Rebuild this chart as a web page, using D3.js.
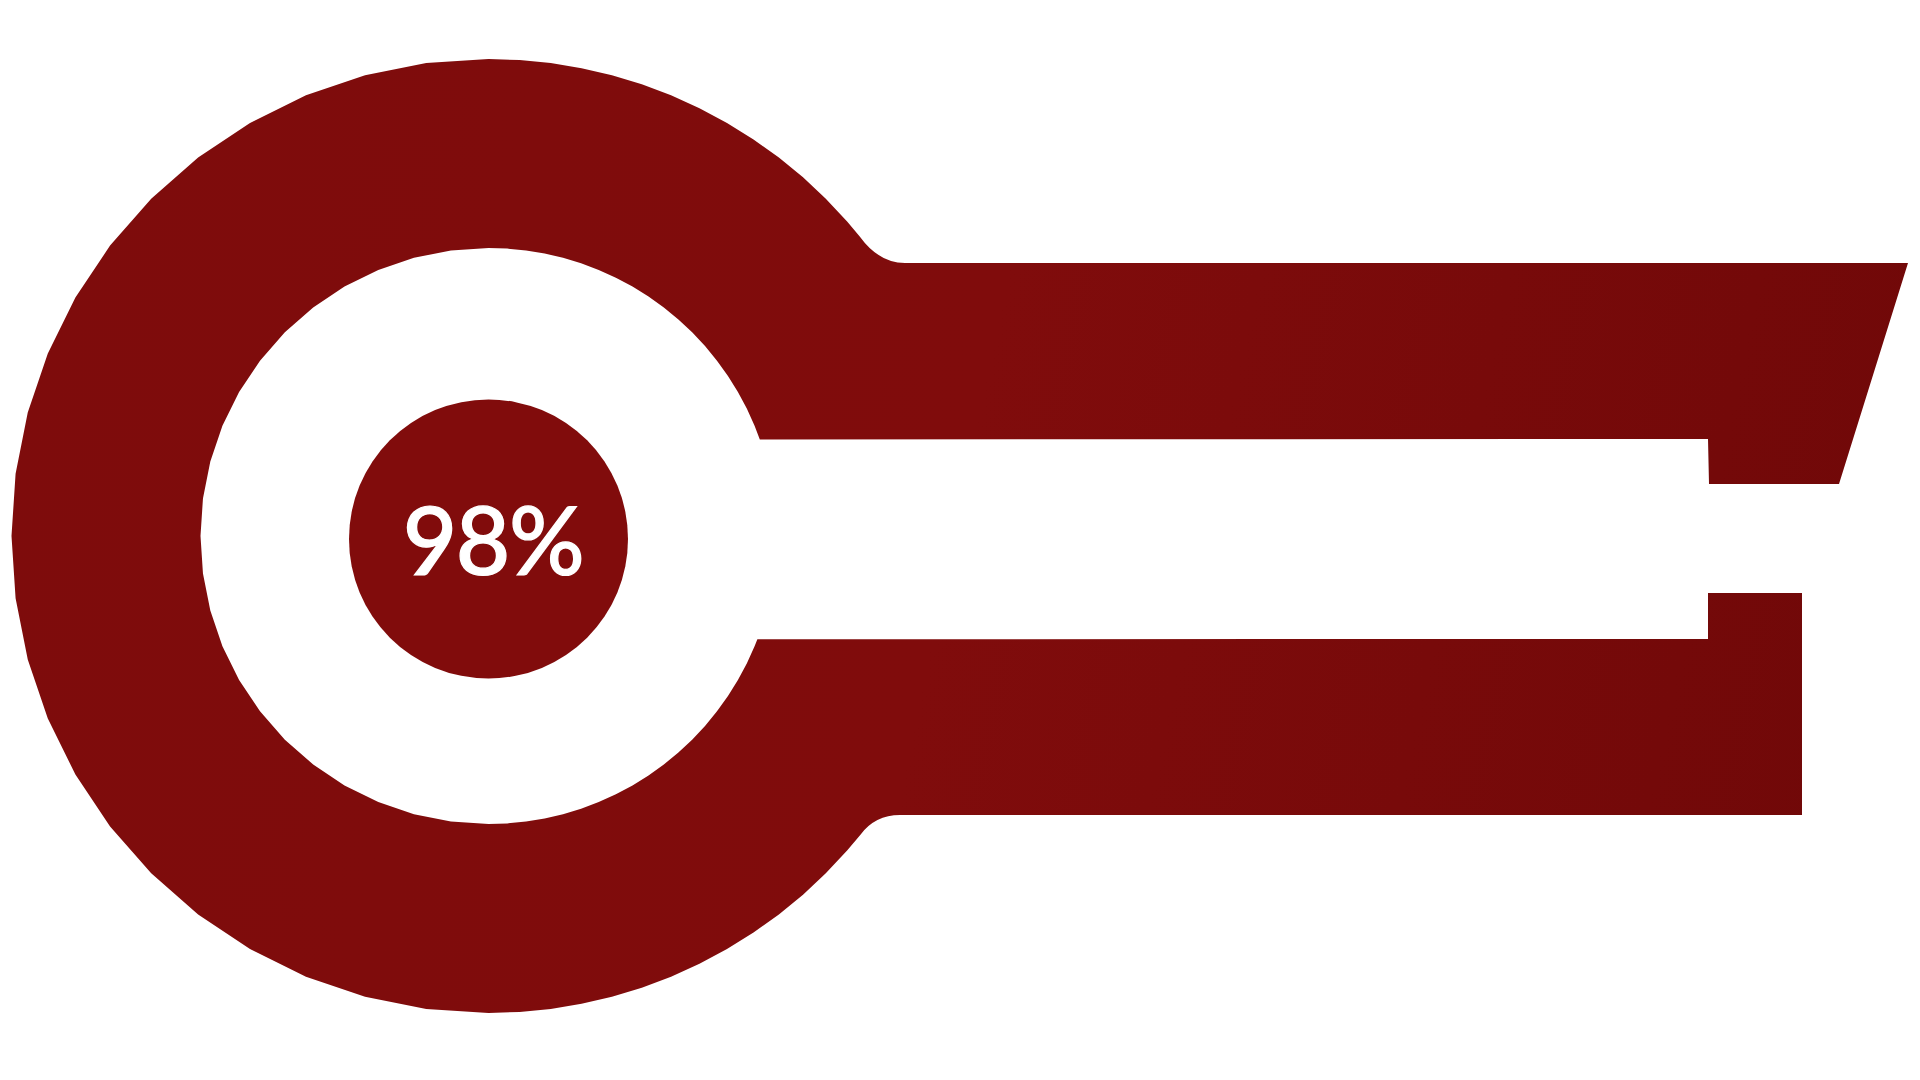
<!DOCTYPE html>
<html>
<head>
<meta charset="utf-8">
<script src="https://cdn.jsdelivr.net/npm/d3@7"></script>
<style>
  html, body { margin: 0; padding: 0; background: #ffffff; }
  svg { display: block; }
</style>
</head>
<body>
<svg id="chart" width="1920" height="1080"></svg>
<script>
// ---- data ----
const metricValues = [98];
const metricLabels = ["98%"];

// ---- layout ----
const W = 1920, H = 1080;
const svg = d3.select("#chart");
const cx = 488.5, cy = 536;
const rOuter = 477, rHole = 288, rDot = 139.5;

const rad = d => d * Math.PI / 180;
const pt = (r, deg) => [cx + r * Math.sin(rad(deg)), cy - r * Math.cos(rad(deg))];
const facetAt = deg => { const m = ((deg % 360) + 360) % 360; return (m > 0 && m < 180) ? 3.75 : 7.5; };

function polyArc(p, r, a0, a1) {
  const dir = a1 > a0 ? 1 : -1;
  const verts = [];
  for (let k = Math.ceil(Math.min(a0, a1) / 3.75); k * 3.75 <= Math.max(a0, a1); k++) {
    const a = k * 3.75;
    if (a === a0 || a === a1) continue;
    const f = facetAt(a);
    const m = ((a % 360) + 360) % 360;
    if (f === 7.5 && Math.abs(m / 7.5 - Math.round(m / 7.5)) > 1e-6) continue;
    verts.push(a);
  }
  if (dir < 0) verts.reverse();
  verts.forEach(a => { const q = pt(r, a); p.lineTo(q[0], q[1]); });
  const e = pt(r, a1); p.lineTo(e[0], e[1]);
}

const defs = svg.append("defs");
const grad = defs.append("linearGradient").attr("id", "g")
  .attr("gradientUnits", "userSpaceOnUse")
  .attr("x1", 0).attr("y1", 300).attr("x2", W).attr("y2", 700);
grad.append("stop").attr("offset", "0").attr("stop-color", "#7e0c0c");
grad.append("stop").attr("offset", "0.5").attr("stop-color", "#800c0c");
grad.append("stop").attr("offset", "1").attr("stop-color", "#700808");

const topArm = { y0: 263, y1: 439, right0: 1908, right1: 1839, notchX: 1708, notchY: 484 };
const botArm = { y0: 639, y1: 815, right: 1802, notchX: 1708, notchY: 593 };

const p = d3.path();
p.moveTo(topArm.right0, topArm.y0);
p.lineTo(905, topArm.y0);
const aTopStart = 51.1;
const ts = pt(rOuter, aTopStart);
p.quadraticCurveTo(879, topArm.y0, ts[0], ts[1]);
const aBotEnd = -231.2;
polyArc(p, rOuter, aTopStart, aBotEnd);
p.quadraticCurveTo(875, botArm.y1, 900, botArm.y1);
p.lineTo(botArm.right, botArm.y1);
p.lineTo(botArm.right, botArm.notchY);
p.lineTo(botArm.notchX, botArm.notchY);
p.lineTo(botArm.notchX, botArm.y0);
const hb = pt(rHole, 111);
p.lineTo(hb[0], hb[1]);
polyArc(p, rHole, 111, 430.4);
p.lineTo(topArm.notchX, topArm.y1);
p.lineTo(topArm.notchX + 1, topArm.notchY);
p.lineTo(topArm.right1, topArm.notchY);
p.closePath();

svg.append("path").attr("d", p.toString()).attr("fill", "url(#g)");

svg.selectAll("circle.dot").data(metricValues).join("circle")
  .attr("class", "dot")
  .attr("cx", cx).attr("cy", 539).attr("r", rDot)
  .attr("fill", "#810c0c");

svg.selectAll("text.val").data(metricLabels).join("text")
  .attr("class", "val")
  .attr("x", 493).attr("y", 575)
  .attr("text-anchor", "middle")
  .attr("font-family", "Lato, 'Open Sans', sans-serif")
  .attr("font-weight", 500)
  .attr("font-size", 94)
  .attr("letter-spacing", "-1.5px")
  .attr("stroke", "#ffffff")
  .attr("stroke-width", 1.2)
  .attr("fill", "#ffffff")
  .text(d => d);
</script>
</body>
</html>
